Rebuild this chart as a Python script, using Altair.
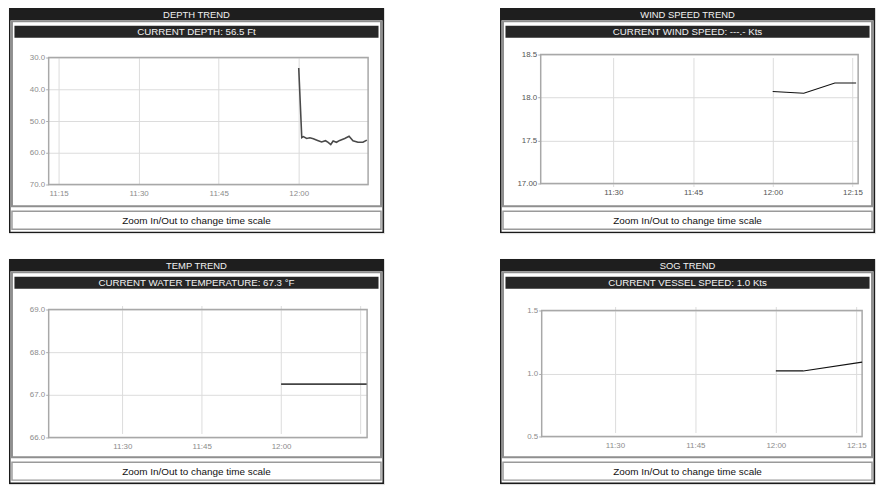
import altair as alt
import pandas as pd

DAY = "2020-01-01"

# ---------------- data ----------------
panel_titles = ["DEPTH TREND", "WIND SPEED TREND", "TEMP TREND", "SOG TREND"]
current_labels = [
    "CURRENT DEPTH:  56.5 Ft",
    "CURRENT WIND SPEED: ---.- Kts",
    "CURRENT WATER TEMPERATURE: 67.3 °F",
    "CURRENT VESSEL SPEED:  1.0 Kts",
]
footer_text = "Zoom In/Out to change time scale"

depth_times = ["12:00:00", "12:00:34", "12:00:52", "12:01:29", "12:02:06", "12:02:44",
               "12:03:32", "12:04:17", "12:05:01", "12:05:31", "12:06:00", "12:06:27",
               "12:07:04", "12:07:41", "12:08:37", "12:09:26", "12:10:10", "12:11:06",
               "12:12:02", "12:12:46"]
depth_values = [33.3, 55.2, 54.9, 55.5, 55.3, 55.6, 56.1, 56.6, 56.2, 56.7,
                57.4, 56.3, 56.7, 56.1, 55.5, 54.8, 56.2, 56.7, 56.7, 56.0]

wind_times = ["12:00:00", "12:05:51", "12:11:42", "12:15:42"]
wind_values = [18.07, 18.05, 18.17, 18.17]

temp_times = ["12:00:00", "12:16:10"]
temp_values = [67.25, 67.25]

sog_times = ["12:00:00", "12:05:06", "12:16:05"]
sog_values = [1.02, 1.02, 1.09]

x_windows = [("11:13:08", "12:13:00"), ("11:16:20", "12:16:05"),
             ("11:16:05", "12:16:15"), ("11:16:20", "12:16:05")]
x_ticks = [["11:15", "11:30", "11:45", "12:00"],
           ["11:30", "11:45", "12:00", "12:15"],
           ["11:30", "11:45", "12:00", "12:15"],
           ["11:30", "11:45", "12:00", "12:15"]]
y_domains = [(30, 70), (17.0, 18.5), (66.0, 69.0), (0.5, 1.5)]
y_ticks = [[30, 40, 50, 60, 70], [17.0, 17.5, 18.0, 18.5],
           [66, 67, 68, 69], [0.5, 1.0, 1.5]]

series = [(depth_times, depth_values), (wind_times, wind_values),
          (temp_times, temp_values), (sog_times, sog_values)]

# ---------------- layout / style ----------------
W, H = 378, 227
FONT = "Liberation Sans"
plot_x = [(40, 362), (41, 361), (40, 361), (42, 365)]
plot_y = [(50, 178), (47, 177), (51, 180), (52, 179)]
y_reversed = [True, False, False, False]
line_styles = [dict(color="#4a4a4a", strokeWidth=1.6), dict(color="#111111", strokeWidth=1.1),
               dict(color="#444444", strokeWidth=1.8), dict(color="#111111", strokeWidth=1.2)]
label_colors = ["#8c8c8c", "#555555", "#8c8c8c", "#8c8c8c"]
y_label_expr = [
    "format(datum.value, '.1f')",
    "datum.value == 17 ? '17.00' : format(datum.value, '.1f')",
    "format(datum.value, '.1f')",
    "format(datum.value, '.1f')",
]
x_label_expr = [
    "timeFormat(datum.value, '%H:%M')",
    "timeFormat(datum.value, '%H:%M')",
    "(hours(datum.value) == 12 && minutes(datum.value) == 15) ? '' : timeFormat(datum.value, '%H:%M')",
    "timeFormat(datum.value, '%H:%M')",
]

one = pd.DataFrame({"k": [0]})


def dt(s):
    parts = [int(p) for p in s.split(":")]
    while len(parts) < 3:
        parts.append(0)
    return alt.DateTime(year=2020, month=1, date=1, hours=parts[0],
                        minutes=parts[1], seconds=parts[2])


def box(x0, y0, x1, y1, **mk):
    return alt.Chart(one).mark_rect(**mk).encode(
        x=alt.value(x0), x2=alt.value(x1), y=alt.value(y0), y2=alt.value(y1))


def label(txt, x, y, **mk):
    return alt.Chart(one).mark_text(text=txt, font=FONT, **mk).encode(
        x=alt.value(x), y=alt.value(y))


def make_panel(i):
    times, values = series[i]
    px0, px1 = plot_x[i]
    py0, py1 = plot_y[i]
    lo, hi = y_domains[i]
    t0, t1 = x_windows[i]

    xs = alt.Scale(domain=[dt(t0), dt(t1)], range=[px0, px1], nice=False)
    if y_reversed[i]:
        ys = alt.Scale(domain=[lo, hi], range=[py0, py1], nice=False, zero=False)
    else:
        ys = alt.Scale(domain=[lo, hi], range=[py1, py0], nice=False, zero=False)

    xaxis = alt.Axis(values=[dt(v) for v in x_ticks[i]], labelExpr=x_label_expr[i],
                     orient="bottom", offset=-(H - py1), title=None, domain=False,
                     ticks=False, grid=True, gridColor="#dcdcdc", gridWidth=1,
                     labelFont=FONT, labelFontSize=8, labelColor=label_colors[i],
                     labelPadding=5, labelFlush=False, labelOverlap=False)
    yaxis = alt.Axis(values=y_ticks[i], labelExpr=y_label_expr[i], orient="left",
                     offset=-px0, title=None, domain=False, ticks=True, tickSize=3,
                     tickColor="#aaaaaa", grid=True, gridColor="#dcdcdc", gridWidth=1,
                     labelFont=FONT, labelFontSize=8, labelColor=label_colors[i],
                     labelPadding=1, labelFlush=False, labelOverlap=False)

    df = pd.DataFrame({"t": [f"{DAY}T{s}" for s in times], "v": values})
    frame = pd.DataFrame({"t": [f"{DAY}T{t0}"], "t2": [f"{DAY}T{t1}"],
                          "v": [lo], "v2": [hi]})

    border = alt.Chart(frame).mark_rect(filled=False, stroke="#a8a8a8", strokeWidth=1.5).encode(
        x=alt.X("t:T", scale=xs, axis=xaxis), x2="t2:T",
        y=alt.Y("v:Q", scale=ys, axis=yaxis), y2="v2:Q")
    line = alt.Chart(df).mark_line(**line_styles[i]).encode(
        x=alt.X("t:T", scale=xs, axis=xaxis),
        y=alt.Y("v:Q", scale=ys, axis=yaxis))

    layers = [
        box(0.75, 0.75, W - 0.75, H - 0.75, filled=False, stroke="#1a1a1a", strokeWidth=1.5),
        box(0, 0, W, 12.5, fill="#1e1e1e"),
        label(panel_titles[i], W / 2, 6.8, color="#f2f2f2", fontSize=9.5, baseline="middle"),
        box(3, 13.5, W - 3, 200, filled=False, stroke="#8f8f8f", strokeWidth=2),
        box(5.5, 18, W - 5.5, 30, fill="#262626"),
        label(current_labels[i], W / 2, 24.3, color="#f2f2f2", fontSize=9.8, baseline="middle"),
        box(3, 205, W - 3, 223, fill="white", stroke="#9a9a9a", strokeWidth=1.5),
        label(footer_text, W / 2, 214.5, color="#111111", fontSize=10, baseline="middle"),
        border,
        line,
    ]
    return alt.layer(*layers).properties(width=W, height=H)


panels = [make_panel(i) for i in range(4)]

chart = alt.vconcat(
    alt.hconcat(panels[0], panels[1], spacing=115),
    alt.hconcat(panels[2], panels[3], spacing=115),
    spacing=24,
).properties(
    padding={"left": 0, "top": -3, "right": 0, "bottom": 0}
).configure_view(strokeWidth=0).configure(font=FONT)

chart.save("out.html", embed_options={"renderer": "svg", "actions": False})
